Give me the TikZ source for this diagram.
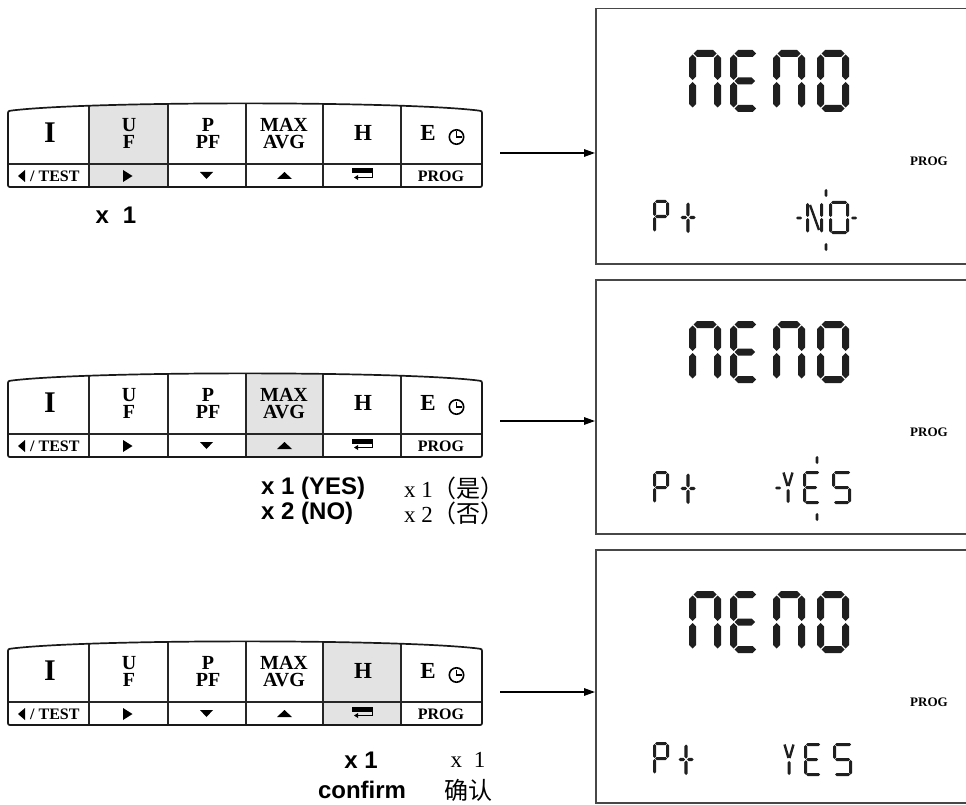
\documentclass[tikz,border=0pt]{standalone}
\usepackage{fontspec}
\setmainfont{Liberation Serif}
\setsansfont{Liberation Sans}
\newfontfamily\cjk{Noto Sans CJK SC}
\usetikzlibrary{arrows.meta}
\newcommand\hseg[4]{\fill[segc] ({#1},{#3}) -- ({#1+#4/2},{#3-#4/2}) -- ({#2-#4/2},{#3-#4/2}) -- ({#2},{#3}) -- ({#2-#4/2},{#3+#4/2}) -- ({#1+#4/2},{#3+#4/2}) -- cycle;}
\newcommand\vseg[4]{\fill[segc] ({#1},{#2}) -- ({#1+#4/2},{#2+#4/2}) -- ({#1+#4/2},{#3-#4/2}) -- ({#1},{#3}) -- ({#1-#4/2},{#3-#4/2}) -- ({#1-#4/2},{#2+#4/2}) -- cycle;}
% big glyphs
\newcommand\bigPi[2]{\begin{scope}[shift={(#1,#2)}]
\hseg{4.5}{27.5}{3.5}{7}\vseg{3.5}{4.5}{30}{7}\vseg{3.5}{32}{57.5}{7}\vseg{28.5}{4.5}{30}{7}\vseg{28.5}{32}{57.5}{7}\end{scope}}
\newcommand\bigE[2]{\begin{scope}[shift={(#1,#2)}]
\hseg{4.5}{26}{3.5}{7}\vseg{3.5}{4.5}{30}{7}\vseg{3.5}{32}{57.5}{7}\hseg{4.5}{25}{31}{7}\hseg{4.5}{26}{58.5}{7}\end{scope}}
\newcommand\bigO[2]{\begin{scope}[shift={(#1,#2)}]
\hseg{4.5}{27.5}{3.5}{7}\vseg{3.5}{4.5}{30}{7}\vseg{3.5}{32}{57.5}{7}\vseg{28.5}{4.5}{30}{7}\vseg{28.5}{32}{57.5}{7}\hseg{4.5}{27.5}{58.5}{7}\end{scope}}
\newcommand\meno[1]{\bigPi{689}{#1}\bigE{730}{#1}\bigPi{773}{#1}\bigO{817}{#1}}
% small glyphs
\newcommand\smP[2]{\begin{scope}[shift={(#1,#2)}]
\hseg{2}{14}{1.5}{3}\vseg{1.5}{2}{16}{3}\vseg{1.5}{17}{31.5}{3}\vseg{14.5}{2}{16}{3}\hseg{2}{14}{16.5}{3}\end{scope}}
\newcommand\smPlus[2]{\begin{scope}[shift={(#1,#2)}]
\vseg{7}{1.5}{15.5}{3.2}\vseg{7}{17.5}{32}{3.2}\hseg{-0.5}{6}{16.5}{3.2}\hseg{8}{14.5}{16.5}{3.2}\end{scope}}
\newcommand\smN[2]{\begin{scope}[shift={(#1,#2)}]
\vseg{1.5}{2}{16}{3}\vseg{1.5}{17}{31.5}{3}\vseg{15.5}{2}{16}{3}\vseg{15.5}{17}{31.5}{3}\draw[segl] (4,4) -- (13,29);\end{scope}}
\newcommand\smO[2]{\begin{scope}[shift={(#1,#2)}]
\hseg{2}{18}{1.5}{3}\vseg{1.5}{2}{16}{3}\vseg{1.5}{17}{31.5}{3}\vseg{18.5}{2}{16}{3}\vseg{18.5}{17}{31.5}{3}\hseg{2}{18}{31.5}{3}\end{scope}}
\newcommand\smYES[2]{\begin{scope}[shift={(#1,#2)}]
\draw[segl] (1.5,1.5) -- (5.5,15) (10.5,1.5) -- (6.5,15);\vseg{6}{18}{32}{3}
\begin{scope}[shift={(21,0)}]\hseg{2}{16}{1.5}{3}\vseg{1.5}{2}{16}{3}\vseg{1.5}{17}{31.5}{3}\hseg{2}{14}{16.5}{3}\hseg{2}{16}{31.5}{3}\end{scope}
\begin{scope}[shift={(50,0)}]\hseg{2}{18}{1.5}{3}\vseg{1.5}{2}{16}{3}\hseg{2}{17}{16.5}{3}\vseg{17.5}{17}{31.5}{3}\hseg{2}{17}{31.5}{3}\end{scope}
\end{scope}}
% keypad
\newcommand\keypad[4]{%
\begin{scope}[shift={(0,#2)}]
\begin{scope}
\clip[panelpath];
\fill[keyhi] (#3,95) rectangle (#4,190);
\foreach \xx in {89,168,246,323,401} \draw[divider] (\xx,95) -- (\xx,190);
\draw[divider] (0,164) -- (490,164);
\end{scope}
\draw[panel,panelpath];
\node[keyA] (#1I) at (50,133) {I};
\node[keyB] (#1U) at (129,125) {U};
\node[keyB] (#1F) at (129,141.5) {F};
\node[keyB] (#1P) at (208,125) {P};
\node[keyB] (#1PF) at (208,141.5) {PF};
\node[keyB] (#1MAX) at (284,125) {MAX};
\node[keyB] (#1AVG) at (284,141.5) {AVG};
\node[keyC] (#1H) at (363,133) {H};
\node[keyC] (#1E) at (428,133) {E};
\draw[line width=1.6pt] (456.5,137) circle[radius=7.2];
\draw[line width=1.4pt] (456.5,131.5) -- (456.5,137) -- (461.5,137);
\fill (25,170) -- (25,182) -- (18,176) -- cycle;
\node[keyS,anchor=west] (#1T) at (30,176.5) {/ TEST};
\fill (123,170) -- (123,182) -- (132.5,176) -- cycle;
\fill (200,172) -- (213,172) -- (206.5,179) -- cycle;
\fill (277,179) -- (292,179) -- (284.5,172) -- cycle;
\fill (352,168.5) rectangle (373,173.5);
\draw[line width=0.9pt] (372.5,173.5) -- (372.5,177.5) -- (355,177.5);
\fill (354,177.5) -- (358,175) -- (358,180) -- cycle;
\node[keyS] (#1G) at (441,176.5) {PROG};
\end{scope}}
\begin{document}
\begin{tikzpicture}[x=1pt,y=-1pt,
  segc/.style={fill=black!88,draw=none},
  segl/.style={draw=black!88,line width=2.4pt},
  panelpath/.style={insert path={(8,115) .. controls (8,111) .. (12,110.5) .. controls (90,101) and (400,101) .. (478,110.5) .. controls (482,111) .. (482,115) -- (482,183) .. controls (482,187) .. (478,187) -- (12,187) .. controls (8,187) .. (8,183) -- cycle}},
  panel/.style={draw=black!90,line width=1.7pt},
  divider/.style={draw=black!85,line width=1.1pt},
  keyhi/.style={fill=black!11},
  keyA/.style={font=\bfseries\fontsize{30}{30}\selectfont,inner sep=0pt},
  keyB/.style={font=\bfseries\fontsize{20}{20}\selectfont,inner sep=0pt,text height=13.5pt,text depth=0pt},
  keyC/.style={font=\bfseries\fontsize{23}{23}\selectfont,inner sep=0pt},
  keyS/.style={font=\bfseries\fontsize{16}{16}\selectfont,inner sep=0pt},
  dispbox/.style={draw=black!72,line width=1.5pt,minimum width=390pt,anchor=north west,inner sep=0pt},
  prog/.style={font=\bfseries\fontsize{13}{13}\selectfont,inner sep=0pt},
  arr/.style={line width=1.5pt,-{Triangle[length=11pt,width=7.5pt]}},
  lblB/.style={font=\sffamily\bfseries\fontsize{24}{26}\selectfont,inner sep=0pt},
  lblC/.style={font=\fontsize{23}{26}\selectfont,inner sep=0pt},
  cjkl/.style={font=\cjk\fontsize{24}{26}\selectfont,inner sep=0pt}]
\fill[white] (0,0) rectangle (966,805);
\useasboundingbox (0,0) rectangle (966,805);
% keypads
\keypad{ka}{0}{89}{168}
\keypad{kb}{270}{246}{323}
\keypad{kc}{538}{323}{401}
% displays
\node[dispbox,minimum height=255pt] (d1) at (595,8) {};
\node[dispbox,minimum height=254pt] (d2) at (595,279) {};
\node[dispbox,minimum height=253pt] (d3) at (595,549) {};
\meno{50}\meno{321}\meno{591}
\node[prog] (p1) at (929,161) {PROG};
\node[prog] (p2) at (929,432) {PROG};
\node[prog] (p3) at (929,702) {PROG};
% row 1 display bottom
\smP{653}{200}\smPlus{681}{201}
\hseg{796}{802}{218}{2.6}
\smN{806}{201}\smO{829}{201}
\vseg{826}{189}{197}{2.6}\vseg{826}{243}{251}{2.6}
\hseg{851}{857}{218}{2.6}
% row 2 display bottom
\smP{653}{471}\smPlus{681}{472}
\smYES{782}{471}
\hseg{775}{781}{488}{2.6}
\vseg{817}{456}{464}{2.6}\vseg{817}{513}{521}{2.6}
% row 3 display bottom
\smP{653}{742}\smPlus{679}{743}
\smYES{783}{743}
% arrows
\coordinate (a1) at (500,153);
\coordinate (a2) at (500,421);
\coordinate (a3) at (500,692);
\draw[arr] (a1) -- (a1 -| d1.west);
\draw[arr] (a2) -- (a2 -| d2.west);
\draw[arr] (a3) -- (a3 -| d3.west);
% labels
\node[lblB] (l1) at (116,215) {x\hspace{14pt}1};
\node[lblB,anchor=west] (l2a) at (261,488) {x 1 (YES)};
\node[lblB,anchor=west] (l2b) at (261,513) {x 2 (NO)};
\node[lblC,anchor=west] (c2a) at (404,488) {x 1\cjk\fontsize{24}{26}\selectfont（是）};
\node[lblC,anchor=west] (c2b) at (404,513) {x 2\cjk\fontsize{24}{26}\selectfont（否）};
\node[lblB] (l3a) at (361,760) {x 1};
\node[lblB] (l3b) at (362,790) {confirm};
\node[lblC] (c3a) at (468,760) {x\hspace{12pt}1};
\node[cjkl] (c3b) at (468,790) {确认};
\end{tikzpicture}
\end{document}
